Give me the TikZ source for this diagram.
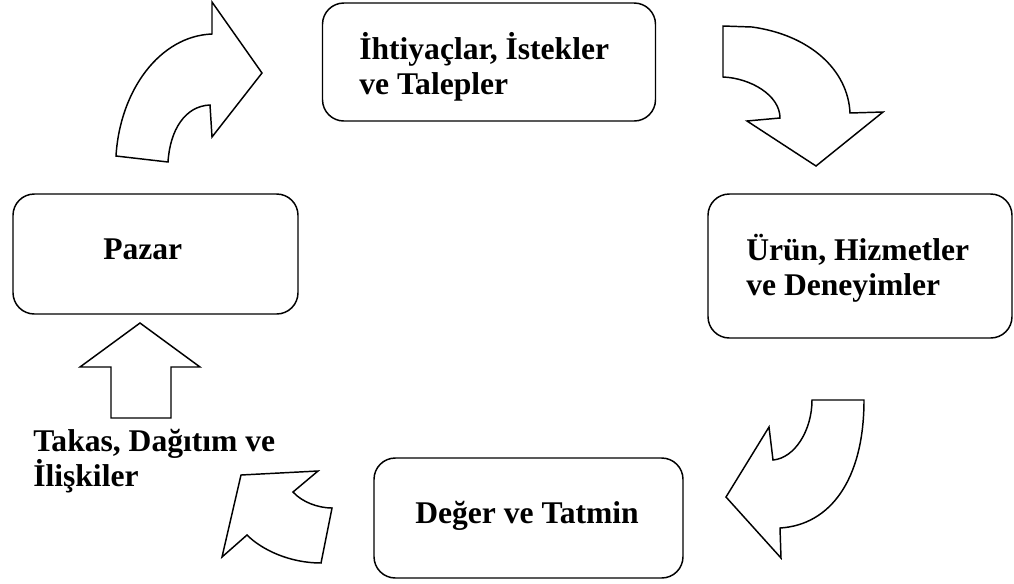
\documentclass[tikz,border=0pt]{standalone}
\usepackage{fontspec}
\setmainfont{Liberation Serif}
\tikzset{
  box/.style={draw, line width=1.1pt, rounded corners=16pt, inner sep=0pt},
  lbl/.style={anchor=base west, inner sep=0pt, align=left,
    font=\fontsize{23.7}{26}\selectfont\bfseries},
  blockarrow/.style={draw, line width=1.1pt, line join=miter, fill=white}
}
\begin{document}
\begin{tikzpicture}[x=0.75pt, y=-0.75pt]
\useasboundingbox (0,0) rectangle (1014,583);
% boxes (centre, size)
\node[box, minimum width=249.75pt, minimum height=88.5pt] (needs) at (489,62) {};
\node[box, minimum width=228pt, minimum height=108pt] (products) at (860,266) {};
\node[box, minimum width=231.75pt, minimum height=90pt] (value) at (528.5,518) {};
\node[box, minimum width=213.75pt, minimum height=90pt] (market) at (155.5,254) {};
% texts (base of the last line)
\node[lbl] (needstxt) at (359,94) {İhtiyaçlar, İstekler\\ve Talepler};
\node[lbl] (productstxt) at (746,295) {Ürün, Hizmetler\\ve Deneyimler};
\node[lbl] (valuetxt) at (415,523) {Değer ve Tatmin};
\node[lbl] (markettxt) at (103,259) {Pazar};
\node[lbl] (exchangetxt) at (33,486) {Takas, Dağıtım ve\\İlişkiler};
% curved arrow, top left
\draw[blockarrow] (116,156) -- (168,162) .. controls (170,130) and (185,106) .. (210,105)
  -- (212,137) -- (262,73) -- (212,2) -- (212,34)
  .. controls (160,36) and (120,90) .. (116,156) -- cycle;
% curved arrow, top right
\draw[blockarrow] (723,26) -- (752,27) .. controls (810,35) and (848,70) .. (850,113)
  -- (883,112) -- (816,166) -- (747,121) -- (780,118)
  .. controls (780,95) and (750,78) .. (723,77) -- cycle;
% curved arrow, bottom right
\draw[blockarrow] (812,400) -- (864,400) .. controls (864,480) and (830,525) .. (780,528)
  -- (781,558) -- (726,497) -- (769,427) -- (773,460)
  .. controls (795,458) and (812,430) .. (812,400) -- cycle;
% cut arrow, bottom left
\draw[blockarrow] (241,475) -- (318,471) -- (293,492)
  .. controls (302,502) and (318,508) .. (332,508) -- (321,563)
  .. controls (290,563) and (262,550) .. (247,535) -- (222,557) -- cycle;
% straight arrow up to the market
\draw[blockarrow] (140,323) -- (200,367) -- (171,367) -- (171,418)
  -- (111,418) -- (111,367) -- (80,367) -- cycle;
\end{tikzpicture}
\end{document}
